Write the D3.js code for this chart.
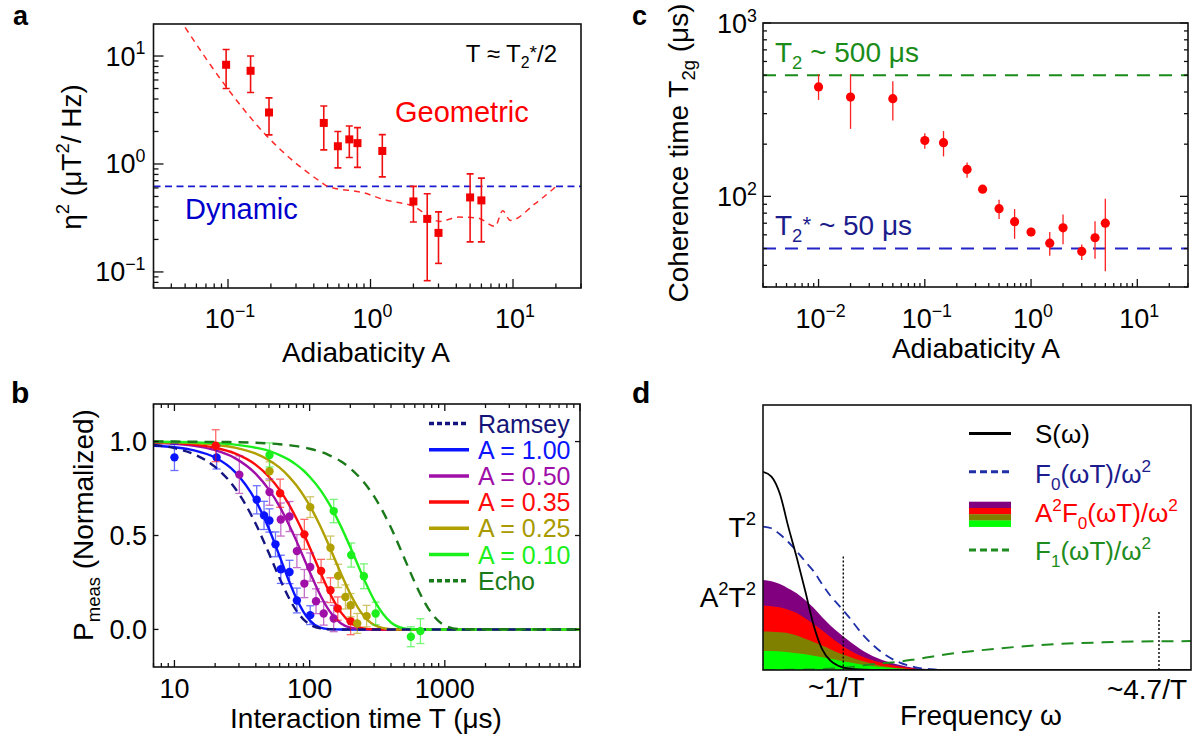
<!DOCTYPE html>
<html><head><meta charset="utf-8">
<script src="https://cdn.jsdelivr.net/npm/d3@7/dist/d3.min.js"></script>
<style>html,body{margin:0;padding:0;background:#fff;overflow:hidden}</style>
</head><body>
<svg id="fig" width="1194" height="738" xmlns="http://www.w3.org/2000/svg"></svg>
<script>
// ================= DATA =================
// Panel a
const aAdiab  = [0.097,0.144,0.194,0.47,0.59,0.71,0.81,1.21,2.0,2.5,3.0,5.0,6.0];
const aEta    = [8.3,7.3,3.0,2.4,1.46,1.69,1.56,1.32,0.45,0.31,0.23,0.49,0.46];
const aEtaHi  = [11.5,10.0,4.1,3.44,2.0,2.25,2.17,1.87,0.62,0.53,0.36,0.81,0.74];
const aEtaLo  = [5.0,4.6,1.86,1.35,0.92,1.15,0.93,0.76,0.29,0.083,0.12,0.19,0.19];
const aGeoA   = [0.05,0.096,0.184,0.45,0.5,0.9,1.25,2.0,3.06,4.16,5.66,7.48,8.47,9.57,14.3,20.1];
const aGeoEta = [18.4,5.3,1.86,0.68,0.62,0.54,0.467,0.405,0.294,0.322,0.316,0.264,0.369,0.30,0.429,0.62];
const aDynamic = 0.62;
const aTickVals = [0.1,1,10];
const aTickExps = ["\u22121","0","1"];

// Panel b
const bT = [7,10,14,20,28,40,50,60,70,80,90,100,120,140,170,200,250,300,400,500,600,700,800,1000,1300,10000];
const bFitRamsey = [0.982,0.965,0.932,0.865,0.753,0.561,0.405,0.272,0.170,0.099,0.054,0.027,0.0055,0.0007,0,0,0,0,0,0,0,0,0,0,0,0];
const bFit100 = [0.978,0.970,0.953,0.915,0.839,0.684,0.536,0.389,0.262,0.163,0.094,0.049,0.010,0.0015,0,0,0,0,0,0,0,0,0,0,0,0];
const bFit050 = [0.994,0.988,0.977,0.954,0.912,0.828,0.744,0.654,0.560,0.470,0.384,0.307,0.182,0.099,0.033,0.0089,0.0006,0,0,0,0,0,0,0,0,0];
const bFit035 = [0.996,0.992,0.984,0.967,0.937,0.876,0.813,0.743,0.667,0.589,0.512,0.438,0.304,0.198,0.092,0.037,0.0057,0.0006,0,0,0,0,0,0,0,0];
const bFit025 = [0.998,0.996,0.992,0.983,0.968,0.936,0.901,0.861,0.815,0.766,0.714,0.660,0.549,0.442,0.300,0.189,0.074,0.024,0.0013,0,0,0,0,0,0,0];
const bFit010 = [0.999,0.998,0.996,0.992,0.984,0.967,0.950,0.928,0.904,0.876,0.846,0.813,0.743,0.667,0.550,0.438,0.275,0.156,0.037,0.0057,0.0006,0,0,0,0,0];
const bFitEcho = [1.0,1.0,0.999,0.998,0.997,0.994,0.990,0.986,0.981,0.976,0.969,0.962,0.946,0.927,0.895,0.857,0.786,0.708,0.541,0.382,0.250,0.152,0.085,0.021,0.0015,0];

const bT100 = [10,20.5,40.6,46,50.4,55.9,61.2,71,80.5,101];
const bP100 = [0.916,0.916,0.69,0.607,0.58,0.453,0.32,0.306,0.154,0.076];
const bE100 = [0.07,0.062,0.075,0.075,0.062,0.066,0.075,0.062,0.066,0.05];
const bT050 = [30.2,50.5,61.2,71,80.5,91.4,101,111.5,127,150.7];
const bP050 = [0.824,0.731,0.585,0.601,0.417,0.244,0.332,0.150,0.085,0.058];
const bE050 = [0.10,0.07,0.088,0.08,0.088,0.075,0.075,0.066,0.062,0.07];
const bT035 = [20.2,60.5,91.4,121.6,142.6,161.5,201];
const bP035 = [0.978,0.725,0.506,0.311,0.209,0.111,0.044];
const bE035 = [0.085,0.075,0.08,0.062,0.066,0.062,0.072];
const bT025 = [50.5,101,142.6,162.5,184,201,225,264];
const bP025 = [0.842,0.651,0.435,0.285,0.173,0.129,0.032,0.071];
const bE025 = [0.05,0.055,0.062,0.062,0.064,0.062,0.053,0.057];
const bT010 = [50.5,150.7,203,252,308,561,660];
const bP010 = [0.929,0.63,0.396,0.283,0.085,-0.039,-0.009];
const bE010 = [0.064,0.062,0.064,0.066,0.06,0.053,0.066];
const bYTicks = [0,0.5,1.0];
const bYTickLabels = ["0.0","0.5","1.0"];
const bXTicks = [10,100,1000];
const bXTickLabels = ["10","100","1000"];
const bLegendLabels = ["Ramsey","A = 1.00","A = 0.50","A = 0.35","A = 0.25","A = 0.10","Echo"];

// Panel c
const cAdiab = [0.01,0.02,0.05,0.1,0.15,0.25,0.35,0.5,0.7,1.0,1.5,2.0,3.0,4.0,5.0];
const cT2g   = [428,374,366,210,204,143,110,84.9,71.4,62.3,53.7,65.8,48.1,57.7,70];
const cHi    = [507,507,462,231,238,157,114,95.7,84.5,65.8,62.3,78.5,52.7,71.8,97];
const cLo    = [360,245,274,188,170,128,106,74,56.9,58.9,45.4,53,42.9,43.6,37];
const cT2 = 500, cT2star = 50;
const cXTickVals = [0.01,0.1,1,10];
const cXTickExps = ["\u22122","\u22121","0","1"];
const cYTickVals = [100,1000];
const cYTickExps = ["2","3"];

// Panel d
const dW = [0,0.1,0.2,0.3,0.4,0.5,0.6,0.7,0.8,0.9,1.0,1.2,1.4,1.6,1.8,2.0,2.2,2.6,3.0,3.5,4.0,4.5,5.08];
const dS = [0.748,0.73,0.665,0.541,0.425,0.30,0.17,0.08,0.035,0.015,0.006,0.001,0,0,0,0,0,0,0,0,0,0,0];
const dF0 = [0.541,0.535,0.512,0.483,0.448,0.41,0.373,0.325,0.28,0.244,0.207,0.128,0.069,0.031,0.011,0.003,0,0,0,0,0,0,0];
const dPurple = [0.34,0.335,0.325,0.308,0.29,0.264,0.235,0.2,0.168,0.141,0.115,0.07,0.04,0.021,0.008,0.003,0,0,0,0,0,0,0];
const dRed = [0.243,0.241,0.237,0.227,0.215,0.195,0.174,0.15,0.125,0.101,0.08,0.048,0.028,0.014,0.005,0.002,0,0,0,0,0,0,0];
const dOlive = [0.145,0.144,0.142,0.139,0.13,0.118,0.106,0.092,0.078,0.064,0.053,0.032,0.016,0.008,0.003,0.001,0,0,0,0,0,0,0];
const dGreen = [0.072,0.072,0.07,0.067,0.063,0.059,0.054,0.048,0.042,0.036,0.03,0.019,0.011,0.006,0.003,0.001,0,0,0,0,0,0,0];
const dF1 = [0,0,0.0003,0.0006,0.001,0.0015,0.002,0.003,0.005,0.007,0.009,0.018,0.025,0.031,0.040,0.05,0.06,0.075,0.087,0.098,0.104,0.108,0.109];
const dMarkW = [0.953,4.7];
const dMarkTop = [0.428,0.219];
const dT2Level = 0.541, dA2T2Level = 0.34;

// ================= DRAWING =================
const FONT = '"Liberation Sans", Arial, Helvetica, sans-serif';
const svg = d3.select('#fig').style('font-family', FONT);
const defs = svg.append('defs');
const FRAME = '#111';

function rich(g, x, y, parts, o) {
  const fs = o.fs;
  const t = g.append('text').attr('x', x).attr('y', y).attr('font-size', fs)
    .attr('fill', o.fill || '#000').attr('text-anchor', o.anchor || 'start');
  if (o.weight) t.attr('font-weight', o.weight);
  if (o.rotate) t.attr('transform', `rotate(-90,${x},${y})`);
  let shift = 0;
  parts.forEach(p => {
    const s = (typeof p === 'string') ? {t: p} : p;
    const ts = t.append('tspan').text(s.t);
    let target = 0, f = fs;
    if (s.sup) { target = -fs * 0.42; f = fs * 0.66; }
    else if (s.sub) { target = fs * 0.26; f = fs * 0.66; }
    else if (s.star) { target = -fs * 0.12; f = fs * 0.8; }
    ts.attr('font-size', f);
    if (target !== shift) { ts.attr('dy', target - shift); shift = target; }
  });
  return t;
}

function frame(g, x0, y0, x1, y1) {
  g.append('rect').attr('x', x0).attr('y', y0).attr('width', x1 - x0).attr('height', y1 - y0)
    .attr('fill', 'none').attr('stroke', FRAME).attr('stroke-width', 1.6);
}
function clip(id, x0, y0, x1, y1) {
  defs.append('clipPath').attr('id', id).append('rect')
    .attr('x', x0).attr('y', y0).attr('width', x1 - x0).attr('height', y1 - y0);
}
function isMajor(v) { const l = Math.log10(v); return Math.abs(l - Math.round(l)) < 1e-6; }
function logTicks(g, scale, orient, pos, majLen, minLen) {
  const [a, b] = scale.domain();
  const lo = Math.min(a, b), hi = Math.max(a, b);
  scale.ticks().filter(v => v >= lo * 0.9999 && v <= hi * 1.0001).forEach(v => {
    const L = isMajor(v) ? majLen : minLen;
    const p = scale(v);
    let x1, y1, x2, y2;
    if (orient === 'bottom') { x1 = x2 = p; y1 = pos; y2 = pos - L; }
    else if (orient === 'top') { x1 = x2 = p; y1 = pos; y2 = pos + L; }
    else if (orient === 'left') { y1 = y2 = p; x1 = pos; x2 = pos + L; }
    else { y1 = y2 = p; x1 = pos; x2 = pos - L; }
    g.append('line').attr('x1', x1).attr('y1', y1).attr('x2', x2).attr('y2', y2)
      .attr('stroke', FRAME).attr('stroke-width', 1.3);
  });
}

// ---------- Panel a ----------
{
  const X0 = 153.5, X1 = 581, Y0 = 24, Y1 = 288;
  const x = d3.scaleLog().domain([0.03, 30]).range([X0, X1]);
  const y = d3.scaleLog().domain([0.071, 19.8]).range([Y1, Y0]);
  const g = svg.append('g');
  clip('clipA', X0, Y0, X1, Y1);
  const pg = g.append('g').attr('clip-path', 'url(#clipA)');
  pg.append('line').attr('x1', X0).attr('x2', X1).attr('y1', y(aDynamic)).attr('y2', y(aDynamic))
    .attr('stroke', '#1a1ad0').attr('stroke-width', 1.8).attr('stroke-dasharray', '7,4.5');
  const geo = aGeoA.map((a, i) => [x(a), y(aGeoEta[i])]);
  pg.append('path').attr('d', d3.line().curve(d3.curveMonotoneX)(geo))
    .attr('fill', 'none').attr('stroke', '#ff2a2a').attr('stroke-width', 1.5).attr('stroke-dasharray', '6,5');
  aAdiab.forEach((a, i) => {
    const cx = x(a);
    pg.append('line').attr('x1', cx).attr('x2', cx).attr('y1', y(aEtaLo[i])).attr('y2', y(aEtaHi[i]))
      .attr('stroke', '#f01010').attr('stroke-width', 1.6);
    [aEtaLo[i], aEtaHi[i]].forEach(v => pg.append('line').attr('x1', cx - 3.5).attr('x2', cx + 3.5)
      .attr('y1', y(v)).attr('y2', y(v)).attr('stroke', '#f01010').attr('stroke-width', 1.6));
    pg.append('rect').attr('x', cx - 4).attr('y', y(aEta[i]) - 4).attr('width', 8).attr('height', 8)
      .attr('fill', '#f20000');
  });
  frame(g, X0, Y0, X1, Y1);
  logTicks(g, y, 'left', X0, 10, 5);
  logTicks(g, x, 'bottom', Y1, 9, 4.5);
  aTickVals.forEach((v, i) => {
    rich(g, X0 - 8, y(v) + 9.5, ['10', {t: aTickExps[i], sup: true}], {fs: 27, anchor: 'end'});
    rich(g, x(v) + 2, 328, ['10', {t: aTickExps[i], sup: true}], {fs: 27, anchor: 'middle'});
  });
  rich(g, 366, 362, ['Adiabaticity A'], {fs: 28, anchor: 'middle'});
  rich(g, 81, 157, ['\u03b7', {t: '2', sup: true}, ' (\u03bcT', {t: '2', sup: true}, '/ Hz)'], {fs: 28, anchor: 'middle', rotate: true});
  rich(g, 557, 62, ['T \u2248 T', {t: '2', sub: true}, {t: '*', star: true}, '/2'], {fs: 24, anchor: 'end'});
  rich(g, 395, 122, ['Geometric'], {fs: 29, fill: '#ff0000'});
  rich(g, 185, 219, ['Dynamic'], {fs: 29, fill: '#0000cc'});
  rich(g, 13, 25, ['a'], {fs: 27, weight: 'bold'});
}

// ---------- Panel b ----------
{
  const X0 = 153.5, X1 = 580, Y0 = 404, Y1 = 667;
  const x = d3.scaleLog().domain([7, 10000]).range([X0, X1]);
  const y = d3.scaleLinear().domain([-0.2, 1.2]).range([Y1, Y0]);
  const g = svg.append('g');
  clip('clipB', X0, Y0, X1, Y1);
  const pg = g.append('g').attr('clip-path', 'url(#clipB)');
  const line = d3.line().curve(d3.curveMonotoneX);
  const series = [
    {fit: bFit100, col: '#0a14ff', T: bT100, P: bP100, E: bE100},
    {fit: bFit050, col: '#a010a8', T: bT050, P: bP050, E: bE050},
    {fit: bFit035, col: '#ff0a0a', T: bT035, P: bP035, E: bE035},
    {fit: bFit025, col: '#b0a000', T: bT025, P: bP025, E: bE025},
    {fit: bFit010, col: '#1cf01c', T: bT010, P: bP010, E: bE010}
  ];
  series.forEach(s => {
    pg.append('path').attr('d', line(bT.map((t, i) => [x(t), y(s.fit[i])])))
      .attr('fill', 'none').attr('stroke', s.col).attr('stroke-width', 2.4);
  });
  pg.append('path').attr('d', line(bT.map((t, i) => [x(t), y(bFitRamsey[i])])))
    .attr('fill', 'none').attr('stroke', '#141480').attr('stroke-width', 2.4).attr('stroke-dasharray', '9,6');
  pg.append('path').attr('d', line(bT.map((t, i) => [x(t), y(bFitEcho[i])])))
    .attr('fill', 'none').attr('stroke', '#1a7a1a').attr('stroke-width', 2.4).attr('stroke-dasharray', '10,7');
  series.forEach(s => {
    s.T.forEach((t, i) => {
      const cx = x(t);
      const eg = pg.append('g').attr('stroke', s.col).attr('stroke-width', 1.3).attr('opacity', 0.6);
      eg.append('line').attr('x1', cx).attr('x2', cx).attr('y1', y(s.P[i] - s.E[i])).attr('y2', y(s.P[i] + s.E[i]));
      [s.P[i] - s.E[i], s.P[i] + s.E[i]].forEach(v => eg.append('line')
        .attr('x1', cx - 4).attr('x2', cx + 4).attr('y1', y(v)).attr('y2', y(v)));
    });
    s.T.forEach((t, i) => pg.append('circle').attr('cx', x(t)).attr('cy', y(s.P[i])).attr('r', 4.2).attr('fill', s.col));
  });
  frame(g, X0, Y0, X1, Y1);
  logTicks(g, x, 'bottom', Y1, 7, 4);
  logTicks(g, x, 'top', Y0, 7, 4);
  bYTicks.forEach((v, i) => {
    g.append('line').attr('x1', X0).attr('x2', X0 + 5).attr('y1', y(v)).attr('y2', y(v)).attr('stroke', FRAME).attr('stroke-width', 1.3);
    g.append('line').attr('x1', X1).attr('x2', X1 - 5).attr('y1', y(v)).attr('y2', y(v)).attr('stroke', FRAME).attr('stroke-width', 1.3);
    rich(g, X0 - 6.5, y(v) + 9.5, [bYTickLabels[i]], {fs: 27, anchor: 'end'});
  });
  bXTicks.forEach((v, i) => rich(g, x(v), 698, [bXTickLabels[i]], {fs: 27, anchor: 'middle'}));
  rich(g, 366, 728, ['Interaction time T (\u03bcs)'], {fs: 28, anchor: 'middle'});
  rich(g, 93, 525, ['P', {t: 'meas', sub: true}, ' (Normalized)'], {fs: 28, anchor: 'middle', rotate: true});
  const legCols = ['#141480', '#0a14ff', '#a010a8', '#ff0a0a', '#b0a000', '#1cf01c', '#1a7a1a'];
  const legTxt = ['#141478', '#0a14ff', '#a010a8', '#ff0a0a', '#a89a00', '#1cf01c', '#1a7a1a'];
  const legDash = ['5,3', null, null, null, null, null, '5,3'];
  bLegendLabels.forEach((lab, i) => {
    const cy = 423.5 + i * 26.2;
    const ln = g.append('line').attr('x1', 429).attr('x2', 469).attr('y1', cy).attr('y2', cy)
      .attr('stroke', legCols[i]).attr('stroke-width', 3.5);
    if (legDash[i]) ln.attr('stroke-dasharray', legDash[i]);
    rich(g, 478, cy + 9, [lab], {fs: 25, fill: legTxt[i]});
  });
  rich(g, 11, 403, ['b'], {fs: 30, weight: 'bold'});
}

// ---------- Panel c ----------
{
  const X0 = 763, X1 = 1188, Y0 = 23, Y1 = 287;
  const x = d3.scaleLog().domain([0.003, 30]).range([X0, X1]);
  const y = d3.scaleLog().domain([30, 1000]).range([Y1, Y0]);
  const g = svg.append('g');
  clip('clipC', X0, Y0, X1, Y1);
  const pg = g.append('g').attr('clip-path', 'url(#clipC)');
  pg.append('line').attr('x1', X0).attr('x2', X1).attr('y1', y(cT2)).attr('y2', y(cT2))
    .attr('stroke', '#1a8c1a').attr('stroke-width', 2).attr('stroke-dasharray', '13,9');
  pg.append('line').attr('x1', X0).attr('x2', X1).attr('y1', y(cT2star)).attr('y2', y(cT2star))
    .attr('stroke', '#2424c8').attr('stroke-width', 2).attr('stroke-dasharray', '13,9');
  cAdiab.forEach((a, i) => {
    pg.append('line').attr('x1', x(a)).attr('x2', x(a)).attr('y1', y(cLo[i])).attr('y2', y(cHi[i]))
      .attr('stroke', '#ff2020').attr('stroke-width', 1.3);
    pg.append('circle').attr('cx', x(a)).attr('cy', y(cT2g[i])).attr('r', 4.6).attr('fill', '#ff0000');
  });
  frame(g, X0, Y0, X1, Y1);
  logTicks(g, y, 'left', X0, 8, 4);
  logTicks(g, y, 'right', X1, 8, 4);
  logTicks(g, x, 'bottom', Y1, 8, 4);
  cXTickVals.forEach((v, i) => rich(g, x(v) + 2, 328, ['10', {t: cXTickExps[i], sup: true}], {fs: 27, anchor: 'middle'}));
  cYTickVals.forEach((v, i) => rich(g, 757, y(v) + 10, ['10', {t: cYTickExps[i], sup: true}], {fs: 27, anchor: 'end'}));
  rich(g, 976, 358, ['Adiabaticity A'], {fs: 28, anchor: 'middle'});
  rich(g, 688, 153, ['Coherence time T', {t: '2g', sub: true}, ' (\u03bcs)'], {fs: 28, anchor: 'middle', rotate: true});
  rich(g, 775, 62, ['T', {t: '2', sub: true}, ' ~ 500 \u03bcs'], {fs: 28, fill: '#1a8c1a'});
  rich(g, 775, 235, ['T', {t: '2', sub: true}, {t: '*', star: true}, ' ~ 50 \u03bcs'], {fs: 28, fill: '#1c1c8c'});
  rich(g, 632, 25, ['c'], {fs: 27, weight: 'bold'});
}

// ---------- Panel d ----------
{
  const X0 = 763, X1 = 1191, Y0 = 405, Y1 = 670;
  const x = d3.scaleLinear().domain([0, 5.08]).range([X0, X1]);
  const y = d3.scaleLinear().domain([0, 1]).range([Y1, Y0]);
  const g = svg.append('g');
  clip('clipD', X0, Y0, X1, Y1);
  const pg = g.append('g').attr('clip-path', 'url(#clipD)');
  const area = d3.area().curve(d3.curveMonotoneX);
  const bands = [[dPurple, '#800080'], [dRed, '#ff0000'], [dOlive, '#808000'], [dGreen, '#00ff00']];
  bands.forEach(([arr, col]) => {
    pg.append('path').attr('d', area.x(d => d[0]).y0(y(0)).y1(d => d[1])(dW.map((w, i) => [x(w), y(arr[i])])))
      .attr('fill', col);
  });
  const line = d3.line().curve(d3.curveMonotoneX);
  pg.append('path').attr('d', line(dW.map((w, i) => [x(w), y(dF1[i])])))
    .attr('fill', 'none').attr('stroke', '#1e8c1e').attr('stroke-width', 2).attr('stroke-dasharray', '12,8');
  pg.append('path').attr('d', line(dW.map((w, i) => [x(w), y(dF0[i])])))
    .attr('fill', 'none').attr('stroke', '#1f2fa8').attr('stroke-width', 1.8).attr('stroke-dasharray', '9,6');
  pg.append('path').attr('d', line(dW.map((w, i) => [x(w), y(dS[i])])))
    .attr('fill', 'none').attr('stroke', '#000').attr('stroke-width', 1.8);
  dMarkW.forEach((w, i) => pg.append('line').attr('x1', x(w)).attr('x2', x(w)).attr('y1', y(dMarkTop[i])).attr('y2', y(0))
    .attr('stroke', '#000').attr('stroke-width', 1.4).attr('stroke-dasharray', '2,2'));
  frame(g, X0, Y0, X1, Y1);
  g.append('line').attr('x1', 969).attr('x2', 1011).attr('y1', 433.5).attr('y2', 433.5).attr('stroke', '#000').attr('stroke-width', 3);
  g.append('line').attr('x1', 969).attr('x2', 1011).attr('y1', 471.7).attr('y2', 471.7).attr('stroke', '#1f2fa8').attr('stroke-width', 3).attr('stroke-dasharray', '7,4');
  bands.forEach(([arr, col], i) => g.append('rect').attr('x', 969).attr('y', 501.7 + i * 6.25).attr('width', 42).attr('height', 6.5).attr('fill', col));
  g.append('line').attr('x1', 969).attr('x2', 1011).attr('y1', 550).attr('y2', 550).attr('stroke', '#1e8c1e').attr('stroke-width', 3).attr('stroke-dasharray', '7,4');
  rich(g, 1035, 443, ['S(\u03c9)'], {fs: 26});
  rich(g, 1035, 483, ['F', {t: '0', sub: true}, '(\u03c9T)/\u03c9', {t: '2', sup: true}], {fs: 26, fill: '#1c1c8c'});
  rich(g, 1035, 522, ['A', {t: '2', sup: true}, 'F', {t: '0', sub: true}, '(\u03c9T)/\u03c9', {t: '2', sup: true}], {fs: 26, fill: '#ff0000'});
  rich(g, 1035, 560, ['F', {t: '1', sub: true}, '(\u03c9T)/\u03c9', {t: '2', sup: true}], {fs: 26, fill: '#1e8c1e'});
  rich(g, 756, y(dT2Level) + 10, ['T', {t: '2', sup: true}], {fs: 28, anchor: 'end'});
  rich(g, 756, y(dA2T2Level) + 27, ['A', {t: '2', sup: true}, 'T', {t: '2', sup: true}], {fs: 28, anchor: 'end'});
  rich(g, x(dMarkW[0]) - 7, 697, ['~1/T'], {fs: 28, anchor: 'middle'});
  rich(g, x(dMarkW[1]) - 12, 699, ['~4.7/T'], {fs: 28, anchor: 'middle'});
  rich(g, 981, 725, ['Frequency \u03c9'], {fs: 28, anchor: 'middle'});
  rich(g, 632, 403, ['d'], {fs: 30, weight: 'bold'});
}
</script>
</body></html>
